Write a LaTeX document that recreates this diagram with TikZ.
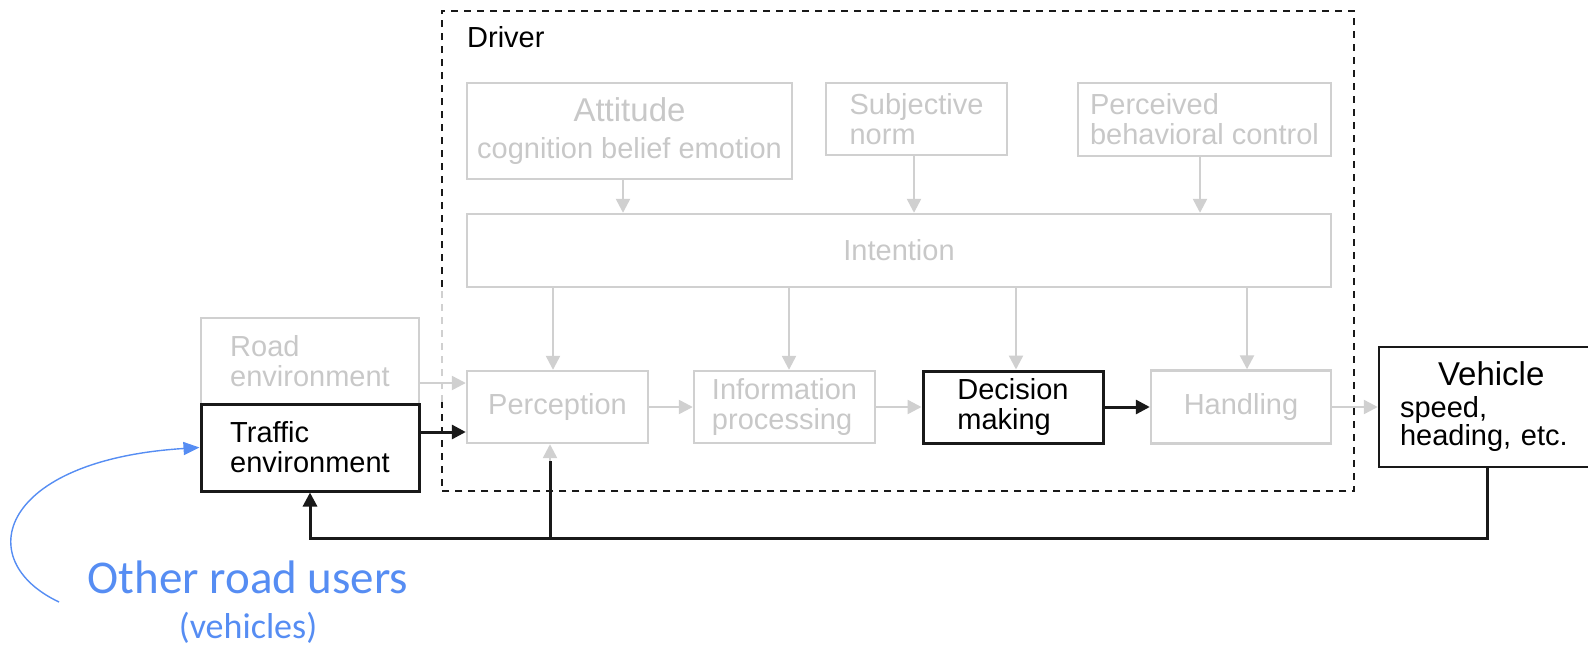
\documentclass[tikz,border=0pt]{standalone}
\usepackage{fontspec}
\setmainfont{Liberation Sans}
\newfontfamily\calib{Carlito}
\usetikzlibrary{arrows.meta}
\definecolor{lg}{RGB}{208,208,208}
\definecolor{lgt}{RGB}{200,200,200}
\definecolor{bl}{RGB}{86,141,243}
\definecolor{dk}{RGB}{25,25,25}
\begin{document}
\begin{tikzpicture}[x=1pt,y=-1pt,
  txt/.style={font=\fontsize{29}{30}\selectfont},
  gbox/.style={draw=lg, line width=2.4pt, text=lgt, txt, inner sep=0pt, align=center},
  bbox/.style={draw=dk, line width=3pt, text=black, txt, inner sep=0pt, align=left},
  garrow/.style={draw=lg, line width=2.4pt, -{Triangle[length=14pt,width=14pt]}},
  barrow/.style={draw=dk, line width=3pt, -{Triangle[length=14pt,width=14pt]}},
  dashln/.style={line width=2pt, dash pattern=on 7pt off 6pt},
]
\useasboundingbox (0,0) rectangle (1588,648);
\clip (0,0) rectangle (1588,648);

% Driver container
\node[draw=none, minimum width=912pt, minimum height=480pt, inner sep=0pt] (driver) at (898,251) {};
\draw[dk,dashln] ([yshift=204pt]driver.south west) -- (driver.north west) -- (driver.north east) -- (driver.south east) -- (driver.south west) -- ([yshift=89pt]driver.south west);
\draw[lg,dashln] ([yshift=89pt]driver.south west) -- ([yshift=204pt]driver.south west);
\node[txt, anchor=base west, inner sep=0pt] (drl) at (467,47) {Driver};

% upper boxes
\node[gbox, minimum width=325pt, minimum height=96pt] (att) at (629.5,131)
  {{\fontsize{33}{34}\selectfont Attitude}\\[7pt]cognition belief emotion};
\node[gbox, align=left, minimum width=181pt, minimum height=72pt] (subj) at (916.5,119) {Subjective\\norm};
\node[gbox, align=left, minimum width=253pt, minimum height=73pt] (perc) at (1204.5,119.5) {Perceived\\behavioral control};
\node[gbox, minimum width=864pt, minimum height=73pt] (intent) at (899,250.5) {Intention};

% process row
\node[gbox, minimum width=181pt, minimum height=72pt] (per) at (557.5,407) {Perception};
\node[gbox, align=left, minimum width=181pt, minimum height=72pt] (info) at (784.5,407) {Information\\processing};
\node[bbox, minimum width=180pt, minimum height=72pt] (dec) at (1013,407) {Decision\\making};
\node[gbox, minimum width=180pt, minimum height=73pt] (hand) at (1241,407) {Handling};

% environment
\node[gbox, align=left, minimum width=218pt, minimum height=86pt] (road) at (310,361) {Road\\environment};
\node[bbox, minimum width=218pt, minimum height=87pt] (tra) at (310,447.5) {Traffic\\environment};

% vehicle
\node[bbox, line width=2.5pt, minimum width=216pt, minimum height=120pt, text width=174pt] (veh) at (1487,407)
  {\hspace*{38pt}{\fontsize{33}{34}\selectfont Vehicle}\\[2pt]speed,\\[-2pt]heading, etc.};

% arrows into intention
\coordinate (a1) at ([xshift=-6.5pt]att.south);
\draw[garrow] (a1) -- (a1 |- intent.north);
\coordinate (a2) at ([xshift=-2.5pt]subj.south);
\draw[garrow] (a2) -- (a2 |- intent.north);
\coordinate (a3) at ([xshift=-4.5pt]perc.south);
\draw[garrow] (a3) -- (a3 |- intent.north);

% arrows from intention
\coordinate (d1) at ([xshift=-4.5pt]per.north);
\draw[garrow] (d1 |- intent.south) -- (d1);
\coordinate (d2) at ([xshift=4.5pt]info.north);
\draw[garrow] (d2 |- intent.south) -- (d2);
\coordinate (d3) at ([xshift=3pt]dec.north);
\draw[garrow] (d3 |- intent.south) -- (d3);
\coordinate (d4) at ([xshift=6pt]hand.north);
\draw[garrow] (d4 |- intent.south) -- (d4);

% horizontal flow
\coordinate (r1) at ([yshift=-22pt]road.east);
\draw[garrow] (r1) -- (r1 -| per.west);
\coordinate (t1) at ([yshift=15.5pt]tra.east);
\draw[barrow] (t1) -- (t1 -| per.west);
\draw[garrow] (per.east) -- (info.west);
\draw[garrow] (info.east) -- (dec.west);
\draw[barrow] (dec.east) -- (hand.west);
\draw[garrow] (hand.east) -- (veh.west);

% feedback
\coordinate (fb) at (0,538);
\draw[barrow] (veh.south) -- (veh.south |- fb) -- (tra.south |- fb) -- (tra.south);
\coordinate (pb) at ([xshift=-7.5pt]per.south);
\draw[dk, line width=3pt] (pb |- fb) -- ([yshift=-17pt]pb);
\draw[garrow] ([yshift=-17pt]pb) -- (pb);

% other road users
\node[font=\calib\fontsize{47}{50}\selectfont, text=bl, anchor=base, inner sep=0pt] (oth) at (248,593) {Other road users};
\node[font=\calib\fontsize{36}{40}\selectfont, text=bl, anchor=base, inner sep=0pt] (ovh) at (248,638) {(vehicles)};
\coordinate (bs) at (59,602);
\draw[bl, line width=1.4pt, -{Triangle[length=16pt,width=13pt]}] (bs) .. controls (-30,560) and (0,460) .. (tra.west);
\end{tikzpicture}
\end{document}
